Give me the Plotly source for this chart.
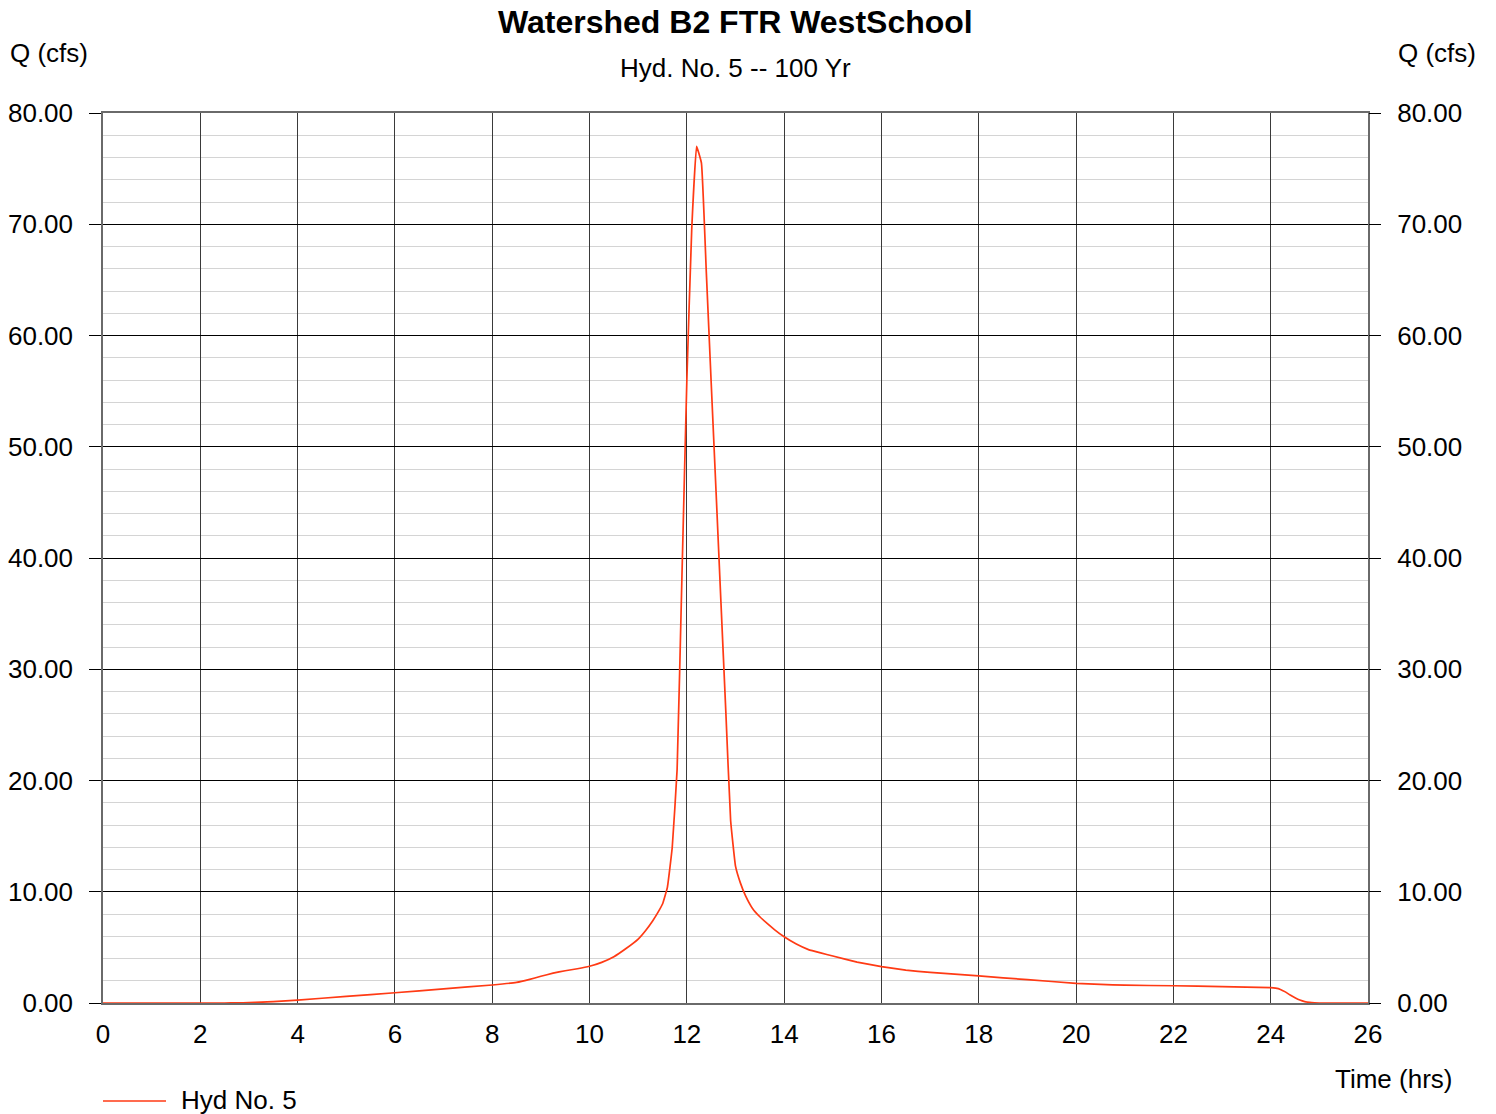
import plotly.graph_objects as go

# Hydrograph ordinates: time (hrs) and discharge Q (cfs)
time_hrs = [0.0, 1.0, 2.0, 2.5, 2.75, 3.0, 3.25, 3.5, 4.0, 5.0, 6.0, 7.0, 8.0,
            8.5, 8.75, 9.0, 9.25, 9.5, 9.75, 10.0, 10.25, 10.5, 10.75, 11.0,
            11.15, 11.3, 11.4, 11.5, 11.6, 11.7, 11.8, 11.9, 12.0, 12.1, 12.2,
            12.3, 12.4, 12.5, 12.6, 12.7, 12.8, 12.9, 13.0, 13.1, 13.2, 13.35,
            13.5, 13.65, 13.8, 14.0, 14.25, 14.5, 14.75, 15.0, 15.5, 16.0, 16.5,
            17.0, 18.0, 19.0, 20.0, 20.5, 21.0, 22.0, 23.0, 24.0, 24.1, 24.2,
            24.3, 24.4, 24.5, 24.6, 24.7, 24.8, 24.9, 25.0, 26.0]
flow_cfs = [0.0, 0.0, 0.0, 0.0, 0.01, 0.03, 0.07, 0.12, 0.25, 0.6, 0.92, 1.27,
            1.62, 1.85, 2.1, 2.4, 2.68, 2.9, 3.08, 3.3, 3.65, 4.16, 4.9, 5.75,
            6.5, 7.4, 8.1, 8.9, 10.4, 14.0, 21.0, 38.5, 56.0, 69.5, 77.0, 75.5,
            65.7, 55.8, 46.0, 36.1, 26.3, 16.4, 12.3, 10.8, 9.7, 8.5, 7.75,
            7.15, 6.6, 5.95, 5.3, 4.8, 4.5, 4.22, 3.68, 3.27, 2.95, 2.75, 2.43,
            2.1, 1.77, 1.67, 1.6, 1.55, 1.47, 1.38, 1.33, 1.22, 1.0, 0.72, 0.48,
            0.27, 0.13, 0.05, 0.01, 0.0, 0.0]

series_name = "Hyd No. 5"
title_text = "Watershed B2 FTR WestSchool"
subtitle_text = "Hyd. No. 5 -- 100 Yr"
y_label = "Q (cfs)"
x_label = "Time (hrs)"

line_color = "#FF3A14"
font_family = "Liberation Sans, Arial, sans-serif"
text_size = 26
tick_font = dict(family=font_family, size=text_size, color="black")

fig = go.Figure()
fig.add_trace(go.Scatter(x=time_hrs, y=flow_cfs, mode="lines", name=series_name,
                         line=dict(color=line_color, width=1.7, shape="spline",
                                   smoothing=0.3),
                         showlegend=False))
# invisible trace so the right-hand axis is drawn
fig.add_trace(go.Scatter(x=[0], y=[0], yaxis="y2", mode="markers",
                         marker=dict(opacity=0), showlegend=False, hoverinfo="skip"))

yaxis_common = dict(range=[0, 80], dtick=10, tickformat=".2f", ticks="outside",
                    ticklen=12, tickcolor="black", tickfont=tick_font,
                    ticklabelstandoff=11, zeroline=False, fixedrange=True,
                    automargin=False)

fig.update_layout(
    width=1496, height=1114,
    margin=dict(l=103, r=128, t=113, b=111),
    paper_bgcolor="white", plot_bgcolor="white",
    font=dict(family=font_family, color="black"),
    showlegend=False,
    xaxis=dict(range=[0, 26], dtick=2, showgrid=True, gridcolor="#3a3a3a",
               gridwidth=1, ticks="", tickfont=tick_font, ticklabelstandoff=7,
               showline=True, linecolor="#6a6a6a", linewidth=1.5, mirror=True,
               zeroline=False, automargin=False),
    yaxis=dict(**yaxis_common, side="left", showgrid=True, gridcolor="black",
               gridwidth=1, showline=True, linecolor="#6a6a6a", linewidth=1.5,
               mirror=True,
               minor=dict(dtick=2, showgrid=True, gridcolor="#d4d4d4",
                          gridwidth=1, ticks="")),
    yaxis2=dict(**yaxis_common, side="right", overlaying="y", showgrid=False,
                showline=False),
    shapes=[
        dict(type="line", xref="paper", yref="paper", x0=0, x1=63 / 1265,
             y0=-98 / 890, y1=-98 / 890, line=dict(color=line_color, width=1.7)),
    ],
    annotations=[
        dict(text=f"<b>{title_text}</b>", xref="paper", yref="paper", x=0.5,
             y=1 + 91 / 890, xanchor="center", yanchor="middle", showarrow=False,
             font=dict(size=32, family=font_family)),
        dict(text=subtitle_text, xref="paper", yref="paper", x=0.5,
             y=1 + 45 / 890, xanchor="center", yanchor="middle", showarrow=False,
             font=dict(size=text_size, family=font_family)),
        dict(text=y_label, xref="paper", yref="paper", x=-95 / 1265,
             y=1 + 60 / 890, xanchor="left", yanchor="middle", showarrow=False,
             font=dict(size=text_size, family=font_family)),
        dict(text=y_label, xref="paper", yref="paper", x=1 + 28 / 1265,
             y=1 + 60 / 890, xanchor="left", yanchor="middle", showarrow=False,
             font=dict(size=text_size, family=font_family)),
        dict(text=x_label, xref="paper", yref="paper", x=1 + 86 / 1265,
             y=-76 / 890, xanchor="right", yanchor="middle", showarrow=False,
             font=dict(size=text_size, family=font_family)),
        dict(text=series_name, xref="paper", yref="paper", x=76 / 1265,
             y=-97 / 890, xanchor="left", yanchor="middle", showarrow=False,
             font=dict(size=text_size, family=font_family)),
    ],
)

fig.write_html("out.html")
